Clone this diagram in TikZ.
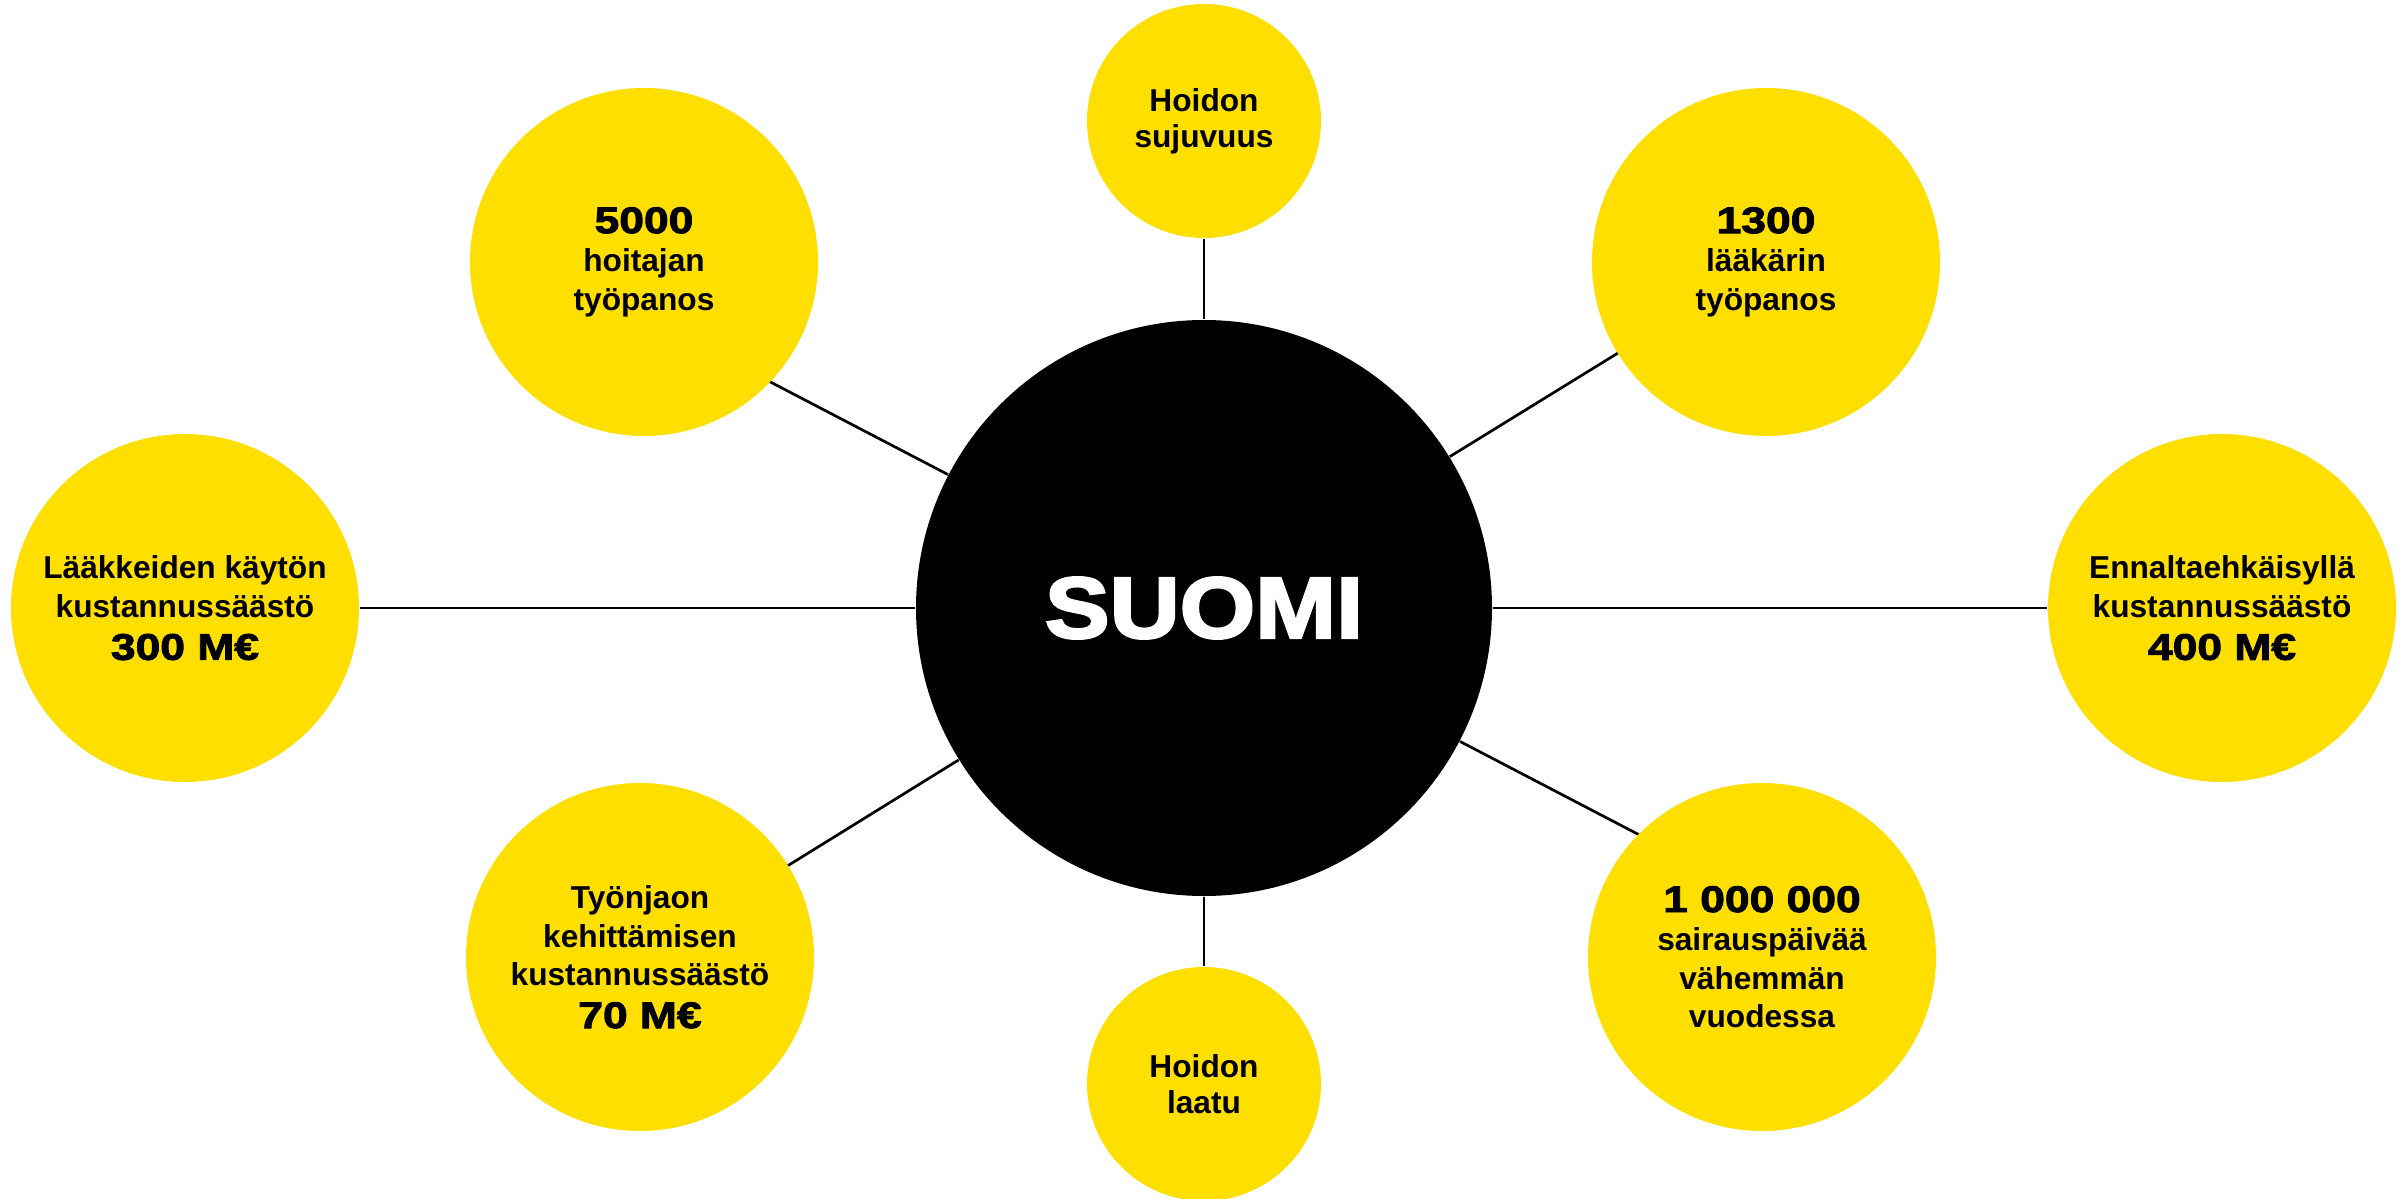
\documentclass[tikz,border=0pt]{standalone}
\usepackage{fontspec}
\setmainfont{Liberation Sans}
\newfontfamily\numfont[FakeStretch=1.2,FakeBold=2.5]{Liberation Sans}
\newfontfamily\titlefont[FakeStretch=1.12,FakeBold=3]{Liberation Sans}
\usetikzlibrary{backgrounds}
\definecolor{bubble}{RGB}{255,223,0}
\tikzset{
  bigbub/.style={circle, fill=bubble, inner sep=0pt, minimum size=104.4pt, align=center,
    font=\bfseries\fontsize{9.5}{11.55}\selectfont},
  smallbub/.style={circle, fill=bubble, inner sep=0pt, minimum size=70.2pt, align=center,
    font=\bfseries\fontsize{9.5}{10.8}\selectfont},
  hub/.style={circle, fill=black, inner sep=0pt, minimum size=172.8pt, text=white,
    font=\titlefont\bfseries\fontsize{26}{30}\selectfont},
  conn/.style={draw=black, line width=0.81pt},
}
\newcommand{\bignum}[1]{{\numfont\bfseries\fontsize{11.1}{12}\selectfont #1}}
\begin{document}
\begin{tikzpicture}[x=0.3pt, y=-0.3pt]
\useasboundingbox (0,0) rectangle (2407,1199);

\node[hub] (C) at (1204,608) {SUOMI};
\node[smallbub] (T) at (1204,121) {Hoidon\\sujuvuus};
\node[smallbub] (B) at (1204,1084) {Hoidon\\laatu};
\node[bigbub] (L) at (185,608) {Lääkkeiden käytön\\kustannussäästö\\[1.2pt]\bignum{300 M€}};
\node[bigbub] (R) at (2222,608) {Ennaltaehkäisyllä\\kustannussäästö\\[1.2pt]\bignum{400 M€}};
\node[bigbub] (UL) at (644,262) {\bignum{5000}\\hoitajan\\työpanos};
\node[bigbub] (UR) at (1766,262) {\bignum{1300}\\lääkärin\\työpanos};
\node[bigbub] (LL) at (640,957) {Työnjaon\\kehittämisen\\kustannussäästö\\[1.2pt]\bignum{70 M€}};
\node[bigbub] (LR) at (1762,957) {\bignum{1 000 000}\\sairauspäivää\\vähemmän\\vuodessa};

\coordinate (eUL) at (757,375);
\coordinate (eUR) at (1631,345);
\coordinate (eLL) at (776,873);
\coordinate (eLR) at (1651,841);

\begin{scope}[on background layer]
\fill[white] (0,0) rectangle (2407,1199);
\draw[conn] (C) -- (T);
\draw[conn] (C) -- (B);
\draw[conn] (C) -- (L);
\draw[conn] (C) -- (R);
\draw[conn] (C) -- (eUL);
\draw[conn] (C) -- (eUR);
\draw[conn] (C) -- (eLL);
\draw[conn] (C) -- (eLR);
\end{scope}
\end{tikzpicture}
\end{document}
